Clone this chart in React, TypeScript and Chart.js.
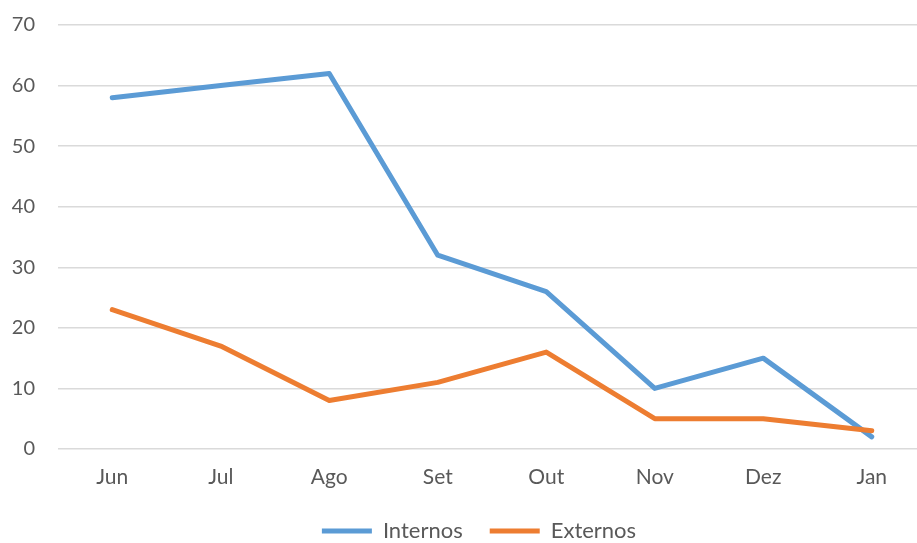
import React, { useEffect, useRef } from "react";
import { Chart, registerables } from "chart.js";

Chart.register(...registerables);

const categories = ["Jun", "Jul", "Ago", "Set", "Out", "Nov", "Dez", "Jan"];
const internos = [58, 60, 62, 32, 26, 10, 15, 2];
const externos = [23, 17, 8, 11, 16, 5, 5, 3];
const seriesNames = ["Internos", "Externos"];
const yTicks = { min: 0, max: 70, step: 10 };

const FONT = "Lato";
const TEXT = "#595959";

const legendShift = {
  id: "legendShift",
  afterLayout(chart: any) {
    if (chart.legend) {
      chart.legend.left += 16;
      chart.legend.right += 16;
    }
  },
};

export default function App() {
  const ref = useRef<HTMLCanvasElement | null>(null);
  useEffect(() => {
    if (!ref.current) return;
    const chart = new Chart(ref.current, {
      type: "line",
      data: {
        labels: categories,
        datasets: [
          {
            label: seriesNames[0],
            data: internos,
            borderColor: "#5B9BD5",
            backgroundColor: "#5B9BD5",
            borderWidth: 5,
            pointRadius: 0,
            pointHoverRadius: 0,
            tension: 0,
            borderCapStyle: "round",
            borderJoinStyle: "round",
            order: 1,
          },
          {
            label: seriesNames[1],
            data: externos,
            borderColor: "#ED7D31",
            backgroundColor: "#ED7D31",
            borderWidth: 5,
            pointRadius: 0,
            pointHoverRadius: 0,
            tension: 0,
            borderCapStyle: "round",
            borderJoinStyle: "round",
            order: 0,
          },
        ],
      },
      options: {
        animation: false,
        responsive: false,
        devicePixelRatio: 1,
        events: [],
        layout: { padding: { top: 25, left: 0, right: 0, bottom: 0 } },
        scales: {
          x: {
            offset: true,
            grid: { display: false, drawTicks: false },
            border: { display: false },
            ticks: { color: TEXT, font: { family: FONT, size: 21 }, padding: 16 },
            afterFit: (s: any) => {
              s.height = 44;
            },
          },
          y: {
            min: yTicks.min,
            max: yTicks.max,
            grid: { color: "#DADADA", lineWidth: 1.5, drawTicks: false },
            border: { display: false },
            ticks: { stepSize: yTicks.step, color: TEXT, font: { family: FONT, size: 20 }, padding: 23 },
            afterFit: (s: any) => {
              s.width = 58;
              s.paddingTop = 0;
              s.paddingBottom = 0;
            },
          },
        },
        plugins: {
          tooltip: { enabled: false },
          legend: {
            position: "bottom",
            labels: {
              boxWidth: 50,
              boxHeight: 5,
              padding: 27,
              color: TEXT,
              font: { family: FONT, size: 22 },
              sort: (a: any, b: any) => a.datasetIndex - b.datasetIndex,
              generateLabels: (c: any) => {
                const items = Chart.defaults.plugins.legend.labels.generateLabels(c);
                return items.map((it: any) => ({ ...it, lineWidth: 0 }));
              },
            },
          },
        },
      },
      plugins: [legendShift],
    });
    return () => chart.destroy();
  }, []);
  return (
    <div
      style={{
        position: "fixed",
        left: 0,
        top: 0,
        width: 917,
        height: 543,
        overflow: "hidden",
        background: "#fff",
      }}
    >
      <canvas ref={ref} width={926} height={552} style={{ display: "block" }} />
    </div>
  );
}
